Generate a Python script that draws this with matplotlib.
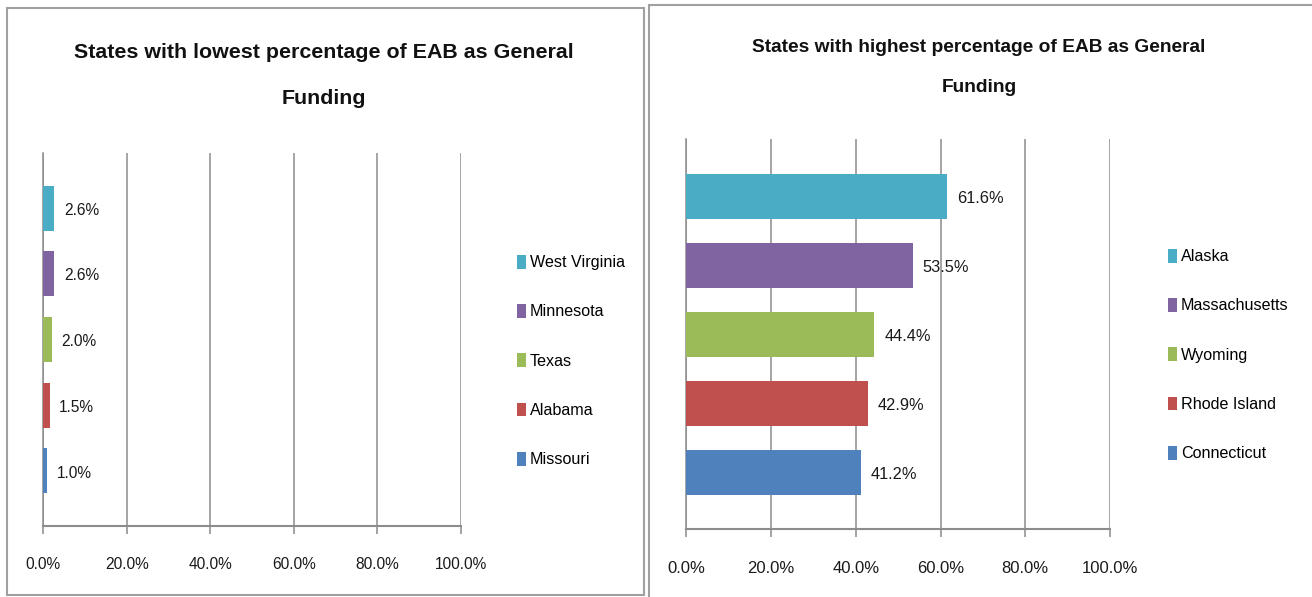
import matplotlib.pyplot as plt
from matplotlib.patches import Rectangle

# data, bottom bar first
low_states = ['Missouri', 'Alabama', 'Texas', 'Minnesota', 'West Virginia']
low_values = [1.0, 1.5, 2.0, 2.6, 2.6]
high_states = ['Connecticut', 'Rhode Island', 'Wyoming', 'Massachusetts', 'Alaska']
high_values = [41.2, 42.9, 44.4, 53.5, 61.6]
bar_colors = ['#4F81BD', '#C0504D', '#9BBB59', '#8064A2', '#4BACC6']
x_ticks = [0, 20, 40, 60, 80, 100]
x_labels = ['0.0%', '20.0%', '40.0%', '60.0%', '80.0%', '100.0%']

plt.rcParams['font.family'] = ['Liberation Sans', 'DejaVu Sans']

W, H = 1312, 597
fig = plt.figure(figsize=(W / 100, H / 100), dpi=100)


def px_box(x0, y0, x1, y1):
    # pixel box (top-left origin) -> figure fraction [left, bottom, width, height]
    return [x0 / W, 1 - y1 / H, (x1 - x0) / W, (y1 - y0) / H]


# chart frames
for (x0, y0, x1, y1) in [(7, 8, 644, 595), (649, 5, 1320, 602)]:
    l, b, w, h = px_box(x0, y0, x1, y1)
    fig.add_artist(Rectangle((l, b), w, h, transform=fig.transFigure,
                             fill=False, edgecolor='#a0a0a0', lw=1.5))


def draw_panel(box, states, values, bar_h, ylim, title_lines, title_xy, title_size,
               leg_xy, label_size, tick_size):
    ax = fig.add_axes(px_box(*box))
    for i, (s, v) in enumerate(zip(states, values)):
        ax.barh(i, v, height=bar_h, color=bar_colors[i], label=s, zorder=3)
        ax.annotate('%.1f%%' % v, (v, i), xytext=(7, -1.5), textcoords='offset points',
                    va='center', ha='left', fontsize=label_size, color='#1a1a1a')
    ax.set_xlim(0, 100)
    ax.set_ylim(*ylim)
    ax.set_xticks(x_ticks)
    ax.set_xticklabels(x_labels, fontsize=tick_size, color='#1a1a1a')
    ax.set_yticks([])
    ax.xaxis.grid(True, color='#8c8c8c', lw=1.1, zorder=0)
    ax.tick_params(axis='x', length=6, width=1.1, color='#8c8c8c', pad=16.5)
    for side in ['top', 'right']:
        ax.spines[side].set_visible(False)
    ax.spines['left'].set_color('#8c8c8c')
    ax.spines['bottom'].set_color('#8c8c8c')
    ax.spines['left'].set_linewidth(1.1)
    ax.spines['bottom'].set_linewidth(1.5)

    tx, ty = title_xy
    for k, line in enumerate(title_lines):
        fig.text(tx / W, 1 - ty[k] / H, line, ha='center', va='center',
                 fontsize=title_size, fontweight='bold', color='#111111')

    handles, labels = ax.get_legend_handles_labels()
    ax.legend(handles[::-1], labels[::-1], loc='center left',
              bbox_to_anchor=(leg_xy[0] / W, 1 - leg_xy[1] / H),
              bbox_transform=fig.transFigure, frameon=False, fontsize=11.6,
              handlelength=0.55, handleheight=0.95, handletextpad=0.25,
              labelspacing=2.1, borderpad=0, borderaxespad=0)
    return ax


draw_panel((43.3, 153, 460.7, 526), low_states, low_values, 0.685, (-0.837, 4.837),
           ['States with lowest percentage of EAB as General', 'Funding'],
           (324, [52, 98]), 15.4, (517, 361), 11.2, 11.2)

draw_panel((686.3, 139, 1110, 529.3), high_states, high_values, 0.653, (-0.824, 4.837),
           ['States with highest percentage of EAB as General', 'Funding'],
           (979, [47, 88]), 13.8, (1168, 355), 11.8, 12)

fig.savefig('out.png', dpi=100)
